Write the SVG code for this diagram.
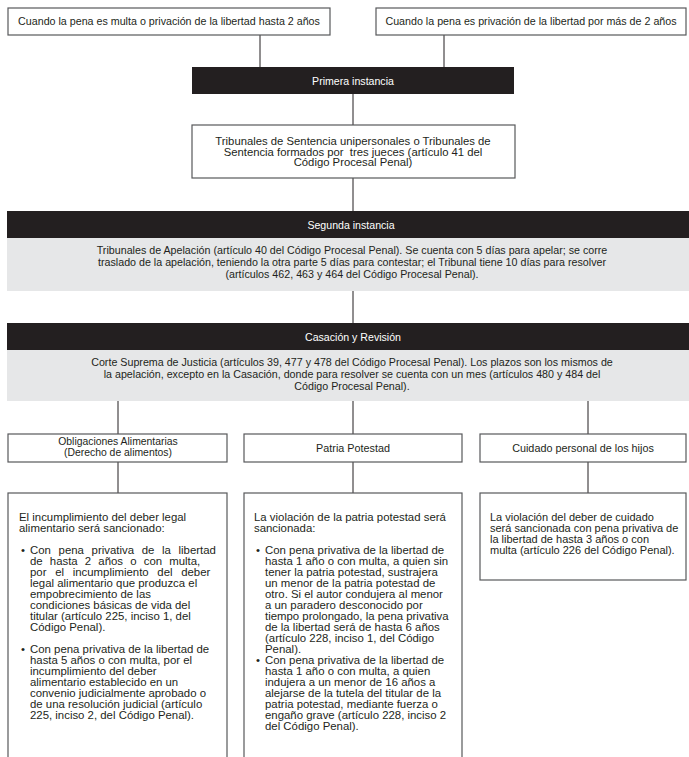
<svg xmlns="http://www.w3.org/2000/svg" width="689" height="757" viewBox="0 0 689 757">
<style>
text{font-family:"Liberation Sans",Arial,sans-serif;fill:#231f20}
.box{fill:#fff;stroke:#58595b;stroke-width:1.2}
.band{fill:#231f20}
.gray{fill:#e6e7e8}
.wt{fill:#fff;font-size:10.6px}
.c{text-anchor:middle}
.t1{font-size:10.7px}
.t2{font-size:11.3px}
.t3{font-size:10.7px}
.sb{font-size:10.8px}
.sb2{font-size:10.4px}
.bd{font-size:11.4px}
.bd2{font-size:11px}
.ln{stroke:#231f20;stroke-width:1;fill:none}
</style>
<rect width="689" height="757" fill="#fff"/>
<g id="connectors">
<line class="ln" x1="260" y1="35" x2="260" y2="67"/>
<line class="ln" x1="444" y1="35" x2="444" y2="67"/>
<line class="ln" x1="353" y1="94" x2="353" y2="125"/>
<line class="ln" x1="353" y1="178" x2="353" y2="211"/>
<line class="ln" x1="353" y1="291" x2="353" y2="323"/>
<line class="ln" x1="118" y1="401" x2="118" y2="434"/>
<line class="ln" x1="353" y1="401" x2="353" y2="434"/>
<line class="ln" x1="588" y1="401" x2="588" y2="434"/>
<line class="ln" x1="118" y1="462" x2="118" y2="493"/>
<line class="ln" x1="353" y1="462" x2="353" y2="493"/>
<line class="ln" x1="588" y1="462" x2="588" y2="493"/>
</g>
<g id="multa">
<rect class="box" x="8" y="8" width="322" height="27"/>
<text class="t1 c" x="169" y="25">Cuando la pena es multa o privación de la libertad hasta 2 años</text>
</g>
<g id="privacion">
<rect class="box" x="376" y="8" width="310" height="27"/>
<text class="t1 c" x="531" y="25">Cuando la pena es privación de la libertad por más de 2 años</text>
</g>
<g id="primera">
<rect class="band" x="192" y="67" width="322" height="27"/>
<text class="wt c" x="353" y="84.5">Primera instancia</text>
</g>
<g id="tribunales">
<rect class="box" x="192" y="125" width="323" height="53"/>
<text class="t2 c" x="353" y="145">Tribunales de Sentencia unipersonales o Tribunales de</text>
<text class="t2 c" x="353" y="155.5">Sentencia formados por&#160; tres jueces (artículo 41 del</text>
<text class="t2 c" x="353" y="166">Código Procesal Penal)</text>
</g>
<g id="segunda">
<rect class="band" x="7" y="211" width="682" height="27"/>
<rect class="gray" x="7" y="238" width="682" height="53"/>
<text class="wt c" x="351" y="228.5">Segunda instancia</text>
<text class="t3 c" x="352" y="254">Tribunales de Apelación (artículo 40 del Código Procesal Penal). Se cuenta con 5 días para apelar; se corre</text>
<text class="t3 c" x="352" y="266">traslado de la apelación, teniendo la otra parte 5 días para contestar; el Tribunal tiene 10 días para resolver</text>
<text class="t3 c" x="352" y="278">(artículos 462, 463 y 464 del Código Procesal Penal).</text>
</g>
<g id="casacion">
<rect class="band" x="7" y="323" width="682" height="27"/>
<rect class="gray" x="7" y="350" width="682" height="51"/>
<text class="wt c" x="353" y="340.5">Casación y Revisión</text>
<text class="t3 c" x="352" y="366">Corte Suprema de Justicia (artículos 39, 477 y 478 del Código Procesal Penal). Los plazos son los mismos de</text>
<text class="t3 c" x="352" y="378">la apelación, excepto en la Casación, donde para resolver se cuenta con un mes (artículos 480 y 484 del</text>
<text class="t3 c" x="352" y="390">Código Procesal Penal).</text>
</g>
<g id="obligaciones">
<rect class="box" x="8" y="434" width="219" height="28"/>
<text class="sb2 c" x="118" y="445">Obligaciones Alimentarias</text>
<text class="sb2 c" x="118" y="455.5">(Derecho de alimentos)</text>
</g>
<g id="patria">
<rect class="box" x="244" y="434" width="218" height="28"/>
<text class="sb c" x="353" y="452">Patria Potestad</text>
</g>
<g id="cuidado">
<rect class="box" x="480" y="434" width="206" height="28"/>
<text class="sb c" x="583" y="452">Cuidado personal de los hijos</text>
</g>
<g id="obligaciones-detalle">
<rect class="box" x="8" y="493" width="219" height="280"/>
<text class="bd" x="19" y="521">El incumplimiento del deber legal</text>
<text class="bd" x="19" y="532">alimentario será sancionado:</text>
<text class="bd" x="21" y="554">•</text>
<text class="bd" x="30" y="554" word-spacing="4.5">Con pena privativa de la libertad</text>
<text class="bd" x="30" y="565" word-spacing="4">de hasta 2 años o con multa,</text>
<text class="bd" x="30" y="576" word-spacing="5.5">por el incumplimiento del deber</text>
<text class="bd" x="30" y="587">legal alimentario que produzca el</text>
<text class="bd" x="30" y="598">empobrecimiento de las</text>
<text class="bd" x="30" y="609">condiciones básicas de vida del</text>
<text class="bd" x="30" y="620">titular (artículo 225, inciso 1, del</text>
<text class="bd" x="30" y="631">Código Penal).</text>
<text class="bd" x="21" y="653">•</text>
<text class="bd" x="30" y="653">Con pena privativa de la libertad de</text>
<text class="bd" x="30" y="664">hasta 5 años o con multa, por el</text>
<text class="bd" x="30" y="675">incumplimiento del deber</text>
<text class="bd" x="30" y="686">alimentario establecido en un</text>
<text class="bd" x="30" y="697">convenio judicialmente aprobado o</text>
<text class="bd" x="30" y="708">de una resolución judicial (artículo</text>
<text class="bd" x="30" y="719">225, inciso 2, del Código Penal).</text>
</g>
<g id="patria-detalle">
<rect class="box" x="244" y="493" width="218" height="280"/>
<text class="bd" x="254" y="521">La violación de la patria potestad será</text>
<text class="bd" x="254" y="532">sancionada:</text>
<text class="bd" x="256" y="554">•</text>
<text class="bd" x="265" y="554">Con pena privativa de la libertad de</text>
<text class="bd" x="265" y="565">hasta 1 año o con multa, a quien sin</text>
<text class="bd" x="265" y="576">tener la patria potestad, sustrajera</text>
<text class="bd" x="265" y="587">un menor de la patria potestad de</text>
<text class="bd" x="265" y="598">otro. Si el autor condujera al menor</text>
<text class="bd" x="265" y="609">a un paradero desconocido por</text>
<text class="bd" x="265" y="620">tiempo prolongado, la pena privativa</text>
<text class="bd" x="265" y="631">de la libertad será de hasta 6 años</text>
<text class="bd" x="265" y="642">(artículo 228, inciso 1, del Código</text>
<text class="bd" x="265" y="653">Penal).</text>
<text class="bd" x="256" y="664">•</text>
<text class="bd" x="265" y="664">Con pena privativa de la libertad de</text>
<text class="bd" x="265" y="675">hasta 1 año o con multa, a quien</text>
<text class="bd" x="265" y="686">indujera a un menor de 16 años a</text>
<text class="bd" x="265" y="697">alejarse de la tutela del titular de la</text>
<text class="bd" x="265" y="708">patria potestad, mediante fuerza o</text>
<text class="bd" x="265" y="719">engaño grave (artículo 228, inciso 2</text>
<text class="bd" x="265" y="730">del Código Penal).</text>
</g>
<g id="cuidado-detalle">
<rect class="box" x="480" y="493" width="206" height="87"/>
<text class="bd2" x="490" y="521">La violación del deber de cuidado</text>
<text class="bd2" x="490" y="532">será sancionada con pena privativa de</text>
<text class="bd2" x="490" y="543">la libertad de hasta 3 años o con</text>
<text class="bd2" x="490" y="554">multa (artículo 226 del Código Penal).</text>
</g>
</svg>
